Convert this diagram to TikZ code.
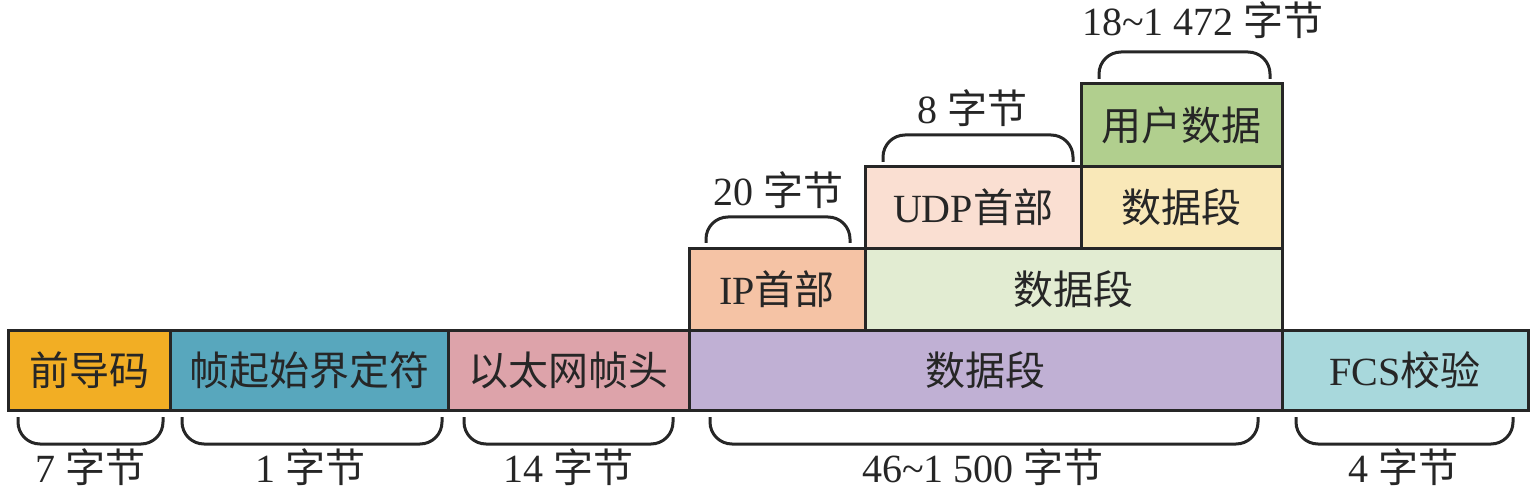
\documentclass[tikz,border=0pt]{standalone}
\usepackage{fontspec}
\setmainfont{Liberation Serif}
\newfontfamily\cjk{Noto Sans CJK SC}
\definecolor{cpre}{HTML}{F2AE24}
\definecolor{csfd}{HTML}{58A7BD}
\definecolor{chdr}{HTML}{DDA3AA}
\definecolor{cdat}{HTML}{C0B0D4}
\definecolor{cfcs}{HTML}{A8D8DC}
\definecolor{cip}{HTML}{F5C3A5}
\definecolor{cipd}{HTML}{E2ECD2}
\definecolor{cudp}{HTML}{FADFD2}
\definecolor{cudpd}{HTML}{F9E8B8}
\definecolor{cusr}{HTML}{B1CF8E}
\tikzset{
  blk/.style={draw=black!85, line width=1.5pt, inner sep=0pt, outer sep=0pt, anchor=north west, font=\fontsize{20}{24}\selectfont, text=black!85},
  brc/.style={draw=black!85, line width=1.5pt, rounded corners=11pt},
  lbl/.style={font=\fontsize{20}{24}\selectfont, text=black!85, inner sep=0pt}
}
\newcommand{\blkbox}[7]{%
  \node[blk, fill=#6, minimum width={(#4-#2)*0.5pt}, minimum height={(#5-#3)*0.5pt}] (#1) at (#2,#3) {#7};}
\begin{document}
\begin{tikzpicture}[x=0.5pt,y=-0.5pt]
\useasboundingbox (0,0) rectangle (1535,497);
% bottom row
\blkbox{pre}{8}{330}{170}{410}{cpre}{\cjk 前导码}
\blkbox{sfd}{170}{330}{448}{410}{csfd}{\cjk 帧起始界定符}
\blkbox{hdr}{448}{330}{689}{410}{chdr}{\cjk 以太网帧头}
\blkbox{dat}{689}{330}{1282}{410}{cdat}{\cjk 数据段}
\blkbox{fcs}{1282}{330}{1528}{410}{cfcs}{FCS{\cjk 校验}}
% IP row
\blkbox{ip}{689}{248}{865}{330}{cip}{IP{\cjk 首部}}
\blkbox{ipd}{865}{248}{1282}{330}{cipd}{\cjk 数据段}
% UDP row
\blkbox{udp}{865}{167}{1081}{248}{cudp}{UDP{\cjk 首部}}
\blkbox{udpd}{1081}{167}{1282}{248}{cudpd}{\cjk 数据段}
% user data
\blkbox{usr}{1081}{84}{1282}{167}{cusr}{\cjk 用户数据}
% bottom braces
\draw[brc] (18,417) -- (18,444) -- (163,444) -- (163,417);
\draw[brc] (182,417) -- (182,444) -- (442,444) -- (442,417);
\draw[brc] (464,417) -- (464,444) -- (673,444) -- (673,417);
\draw[brc] (710,417) -- (710,444) -- (1258,444) -- (1258,417);
\draw[brc] (1296,417) -- (1296,444) -- (1513,444) -- (1513,417);
% top braces
\draw[brc] (706,243) -- (706,217) -- (850,217) -- (850,243);
\draw[brc] (883,162) -- (883,135) -- (1073,135) -- (1073,162);
\draw[brc] (1099,79) -- (1099,52) -- (1270,52) -- (1270,79);
% labels
\node[lbl] (l1) at (90,467) {7 {\cjk 字节}};
\node[lbl] (l2) at (310,467) {1 {\cjk 字节}};
\node[lbl] (l3) at (568,467) {14 {\cjk 字节}};
\node[lbl] (l4) at (983,467) {46\textasciitilde 1 500 {\cjk 字节}};
\node[lbl] (l5) at (1403,467) {4 {\cjk 字节}};
\node[lbl] (l6) at (778,190) {20 {\cjk 字节}};
\node[lbl] (l7) at (972,108) {8 {\cjk 字节}};
\node[lbl] (l8) at (1203,20) {18\textasciitilde 1 472 {\cjk 字节}};
\end{tikzpicture}
\end{document}
